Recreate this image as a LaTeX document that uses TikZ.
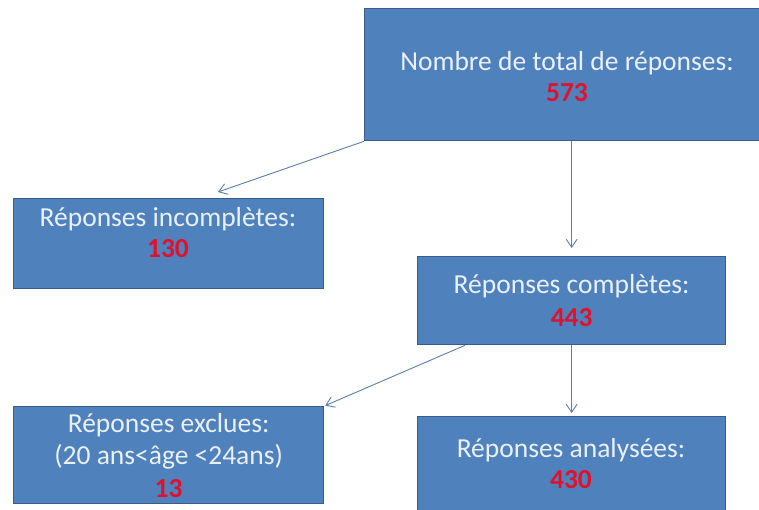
\documentclass[tikz,border=0pt]{standalone}
\usepackage{fontspec}
\setmainfont{Carlito}
\usetikzlibrary{arrows.meta,calc}
\definecolor{boxfill}{HTML}{4F81BD}
\definecolor{boxedge}{HTML}{385D8A}
\definecolor{txtc}{HTML}{EAF0F8}
\definecolor{numc}{HTML}{E2112B}
\definecolor{arrc}{HTML}{5A7FAE}
\tikzset{
  flowbox/.style={draw=boxedge, line width=1.3pt, fill=boxfill, text=txtc,
    align=center, inner sep=0pt, font=\fontsize{27.5}{32.5}\selectfont},
  flowtext/.style={text=txtc, align=center, inner sep=0pt, font=\fontsize{27.5}{31}\selectfont},
  flowarrow/.style={draw=arrc, line width=0.9pt, -{Straight Barb[length=8pt,width=11pt]}},
}
\newcommand{\numtxt}[1]{\textcolor{numc}{\textbf{#1}}}
\begin{document}
\begin{tikzpicture}[x=1pt,y=-1pt]
\useasboundingbox (0,0) rectangle (759,510);
\clip (0,0) rectangle (759,510);
\fill[white] (0,0) rectangle (759,510);
% boxes
\node[flowbox, minimum width=400pt, minimum height=132pt, anchor=north west] (top) at (364,8) {};
\node[flowtext] (toptxt) at (567,77) {Nombre de total de réponses:\\ \numtxt{573}};
\node[flowbox, minimum width=310pt, minimum height=90pt, anchor=north west] (inc) at (13,198) {};
\node[flowtext] (inctxt) at (168,233) {Réponses incomplètes:\\ \numtxt{130}};
\node[flowbox, minimum width=308pt, minimum height=88pt, anchor=north west] (comp) at (417,256) {Réponses complètes:\\ \numtxt{443}};
\node[flowbox, minimum width=310pt, minimum height=97pt, anchor=north west] (excl) at (13,406) {Réponses exclues:\\ (20 ans<âge <24ans)\\ \numtxt{13}};
\node[flowbox, minimum width=308pt, minimum height=100pt, anchor=north west] (anal) at (417,416) {};
\node[flowtext] (analtxt) at (571,464) {Réponses analysées:\\ \numtxt{430}};
% connectors
\coordinate (incTip) at (218,192);
\coordinate (compStart) at ($(comp.south west)+(48,0)$);
\draw[flowarrow] (top.south west) -- (incTip);
\draw[flowarrow, shorten >=8pt] (comp.north |- top.south) -- (comp.north);
\draw[flowarrow, shorten >=3pt] (comp.south) -- (anal.north);
\draw[flowarrow, shorten >=1pt] (compStart) -- (excl.north east);
\end{tikzpicture}
\end{document}
